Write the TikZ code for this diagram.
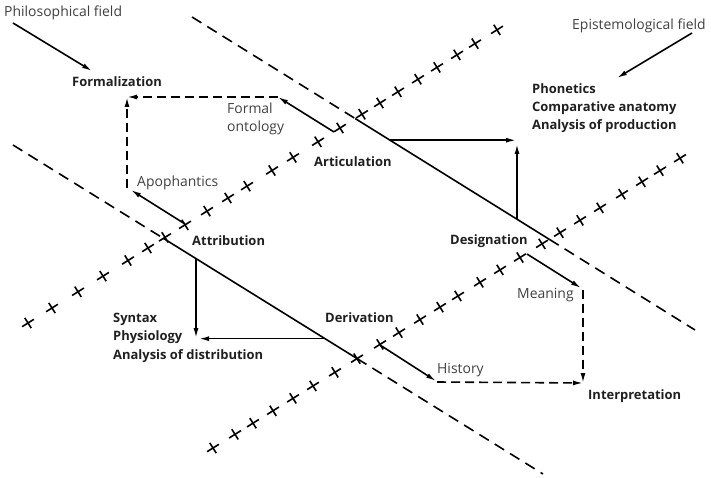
\documentclass[tikz,border=0pt]{standalone}
\usepackage{fontspec}
\setmainfont{Open Sans}
\usetikzlibrary{arrows.meta}
\begin{document}
\begin{tikzpicture}[x=1bp,y=-1bp,
  lab/.style={font=\fontsize{14}{18.5}\selectfont, text=black!75, inner sep=0, anchor=base west, align=left},
  blab/.style={font=\fontsize{13}{18.5}\selectfont\bfseries, text=black!88, inner sep=0, anchor=base west, align=left},
  sline/.style={line width=1.6bp, black},
  dline/.style={line width=1.6bp, black, dash pattern=on 11bp off 7bp},
  arr/.style={line width=1.6bp, black, -{Latex[length=10bp,width=5bp]}},
  darr/.style={line width=1.6bp, black, dash pattern=on 9bp off 5bp, -{Latex[length=10bp,width=5bp]}},
  crossmark/.style={line width=1.6bp, black}
]
\useasboundingbox (0,0) rectangle (711,478);

% main lines end points
\coordinate (L1s) at (192,17);
\coordinate (L1e) at (695,330);
\coordinate (L2s) at (13,145);
\coordinate (L2e) at (543,474);
\coordinate (L3s) at (28,323);
\coordinate (L3e) at (497,30);
\coordinate (L4s) at (213,448);
\coordinate (L4e) at (682,157);

\coordinate (Art) at (intersection of L1s--L1e and L3s--L3e);
\coordinate (Att) at (intersection of L2s--L2e and L3s--L3e);
\coordinate (Der) at (intersection of L2s--L2e and L4s--L4e);
\coordinate (Des) at (intersection of L1s--L1e and L4s--L4e);

% the two oblique lines, dashed outside, solid between
\draw[dline] (L1s) -- (Art);
\draw[sline] (Art) -- (Des);
\draw[dline] (Des) -- (L1e);
\draw[dline] (L2s) -- (Att);
\draw[sline] (Att) -- (Der);
\draw[dline] (Der) -- (L2e);

% crossed lines
\foreach \x in {28,52,78,103,128,148,165,185,207,228,247,272,293,318,340,362,380,398,418,437,457,475,497}{
  \pgfmathsetmacro\y{323-0.625*(\x-28)}
  \draw[crossmark] (\x,\y) ++(-5.9,3.7) -- ++(11.8,-7.4);
  \draw[crossmark] (\x,\y) ++(-3.2,-5.1) -- ++(6.4,10.2);
}
\foreach \x in {213,235,253,273,293,313,335,357,380,399,420,440,458,480,500,520,542,560,580,600,622,642,660,680}{
  \pgfmathsetmacro\y{448-0.6205*(\x-213)}
  \draw[crossmark] (\x,\y) ++(-5.9,3.7) -- ++(11.8,-7.4);
  \draw[crossmark] (\x,\y) ++(-3.2,-5.1) -- ++(6.4,10.2);
}

% field arrows
\coordinate (PFs) at (13,23);
\coordinate (PFe) at (92,71);
\draw[arr] (PFs) -- (PFe);
\coordinate (EFs) at (692,33);
\coordinate (EFe) at (617,78);
\draw[arr] (EFs) -- (EFe);

% upper-left loop
\coordinate (FOs) at (334,132);
\coordinate (FOe) at (278,97);
\coordinate (FC) at (127,97);
\coordinate (APs) at (185,224);
\coordinate (APe) at (131,190);
\coordinate (APd) at (127,188);
\draw[arr] (FOs) -- (FOe);
\draw[darr] (FOe) -- (FC);
\draw[darr] (APd) -- (FC);
\draw[arr] (APs) -- (APe);

% lower-right loop
\coordinate (MEs) at (527,254);
\coordinate (MEe) at (581,288);
\coordinate (MEd) at (583,290);
\coordinate (IC) at (583,383);
\coordinate (HIs) at (380,345);
\coordinate (HIe) at (436,381);
\coordinate (HId) at (437,382);
\draw[arr] (MEs) -- (MEe);
\draw[darr] (MEd) -- (IC);
\draw[arr] (HIs) -- (HIe);
\draw[darr] (HId) -- (IC);

% right angle arrows
\coordinate (ARh) at (intersection of L1s--L1e and 390,0--390,478);
\coordinate (ARc) at (516,140);
\coordinate (ARv) at (intersection of L1s--L1e and 517,0--517,478);
\coordinate (ARcv) at (517,144);
\draw[arr] (ARh) -- (ARh -| ARc);
\draw[arr] (ARv) -- (ARcv);
\coordinate (ATv) at (intersection of L2s--L2e and 196,0--196,478);
\coordinate (ATcv) at (196,338);
\coordinate (ATh) at (intersection of L2s--L2e and 325,0--325,478);
\coordinate (ATch) at (199,339);
\draw[arr] (ATv) -- (ATcv);
\draw[arr] (ATh) -- (ATh -| ATch);

% labels
\node[lab] (philo) at (4,17) {Philosophical field};
\node[lab] (episte) at (572,30) {Epistemological field};
\node[blab] (formal) at (72,87) {Formalization};
\node[lab] (fonto) at (227,132) {Formal\\ontology};
\node[lab] (apoph) at (137,187) {Apophantics};
\node[blab] (artic) at (314,167) {Articulation};
\node[blab] (phon) at (532,130) {Phonetics\\Comparative anatomy\\Analysis of production};
\node[blab] (attr) at (192,246) {Attribution};
\node[blab] (synt) at (113,359) {Syntax\\Physiology\\Analysis of distribution};
\node[blab] (deriv) at (325,322) {Derivation};
\node[blab] (desig) at (450,245) {Designation};
\node[lab] (mean) at (517,298) {Meaning};
\node[lab] (hist) at (437,373) {History};
\node[blab] (interp) at (588,399) {Interpretation};
\end{tikzpicture}
\end{document}
